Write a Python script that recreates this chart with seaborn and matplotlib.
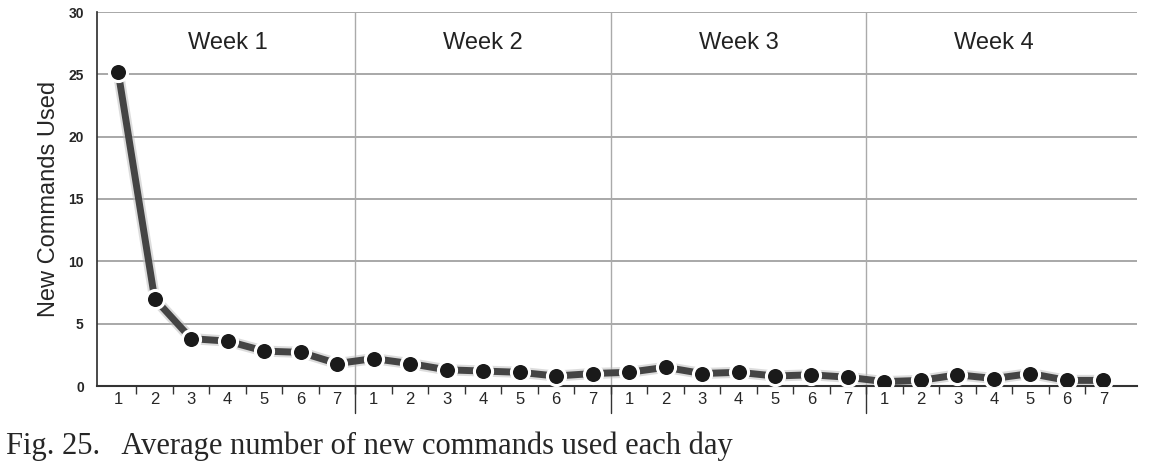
import matplotlib
matplotlib.use("Agg")
import numpy as np
import pandas as pd
import matplotlib.pyplot as plt
import seaborn as sns

sns.set_theme(style="white")
plt.rcParams["font.family"] = ["Liberation Sans", "DejaVu Sans"]

weeks = ["Week 1", "Week 2", "Week 3", "Week 4"]
day_labels = ["1", "2", "3", "4", "5", "6", "7"]
commands = [25.2, 7.0, 3.8, 3.6, 2.8, 2.7, 1.8,
            2.2, 1.8, 1.3, 1.2, 1.1, 0.8, 1.0,
            1.1, 1.5, 1.0, 1.1, 0.8, 0.9, 0.7,
            0.35, 0.45, 0.9, 0.6, 1.0, 0.45, 0.45]
y_ticks = [0, 5, 10, 15, 20, 25, 30]

df = pd.DataFrame({"idx": np.arange(len(commands)), "value": commands})

fig = plt.figure(figsize=(11.49, 4.62), dpi=100)
ax = fig.add_axes([97 / 1149, 1 - 386 / 462, 1040 / 1149, 374 / 462])

for yt in y_ticks[1:]:
    ax.axhline(yt, color="#999999", lw=1.2, zorder=0)
for w in range(1, len(weeks)):
    ax.axvline(w * 7 - 0.5, color="#aaaaaa", lw=1.0, zorder=0)
for w, name in enumerate(weeks):
    ax.text(w * 7 + 3, 27.5, name, ha="center", va="center", fontsize=17, color="#222222")

# soft glow under the line, then the line itself
ax.plot(df["idx"], df["value"], color="#bbbbbb", lw=8, alpha=0.5, zorder=2)
sns.lineplot(data=df, x="idx", y="value", ax=ax, color="#444444", lw=5, zorder=3)
ax.scatter(df["idx"], df["value"], s=170, color="#1a1a1a", edgecolor="white",
           linewidths=2.2, zorder=4)

ax.set_xlim(-0.58, 27.92)
ax.set_ylim(0, 30)
ax.set_yticks(y_ticks)
ax.set_yticklabels([str(t) for t in y_ticks], fontsize=10, fontweight="bold")
ax.set_xticks(df["idx"])
ax.set_xticklabels(day_labels * len(weeks), fontsize=12)
ax.set_xticks(np.arange(0.5, 27, 1), minor=True)
ax.tick_params(axis="x", which="major", length=0, pad=4)
ax.tick_params(axis="x", which="minor", length=6, color="#333333", bottom=True)
for w in range(1, len(weeks)):
    ax.plot([w * 7 - 0.5] * 2, [0, -2.2], color="#333333", lw=1, clip_on=False)
ax.set_xlabel("")
ax.set_ylabel("New Commands Used", fontsize=17, labelpad=6)
for s in ["top", "right"]:
    ax.spines[s].set_visible(False)
ax.spines["left"].set_color("#333333")
ax.spines["bottom"].set_color("#333333")
ax.spines["bottom"].set_linewidth(1.5)

fig.text(0.005, 0.035, "Fig. 25.   Average number of new commands used each day",
         fontsize=22, family=["Liberation Serif", "DejaVu Serif"], va="center")

fig.savefig("out.png", dpi=100)
